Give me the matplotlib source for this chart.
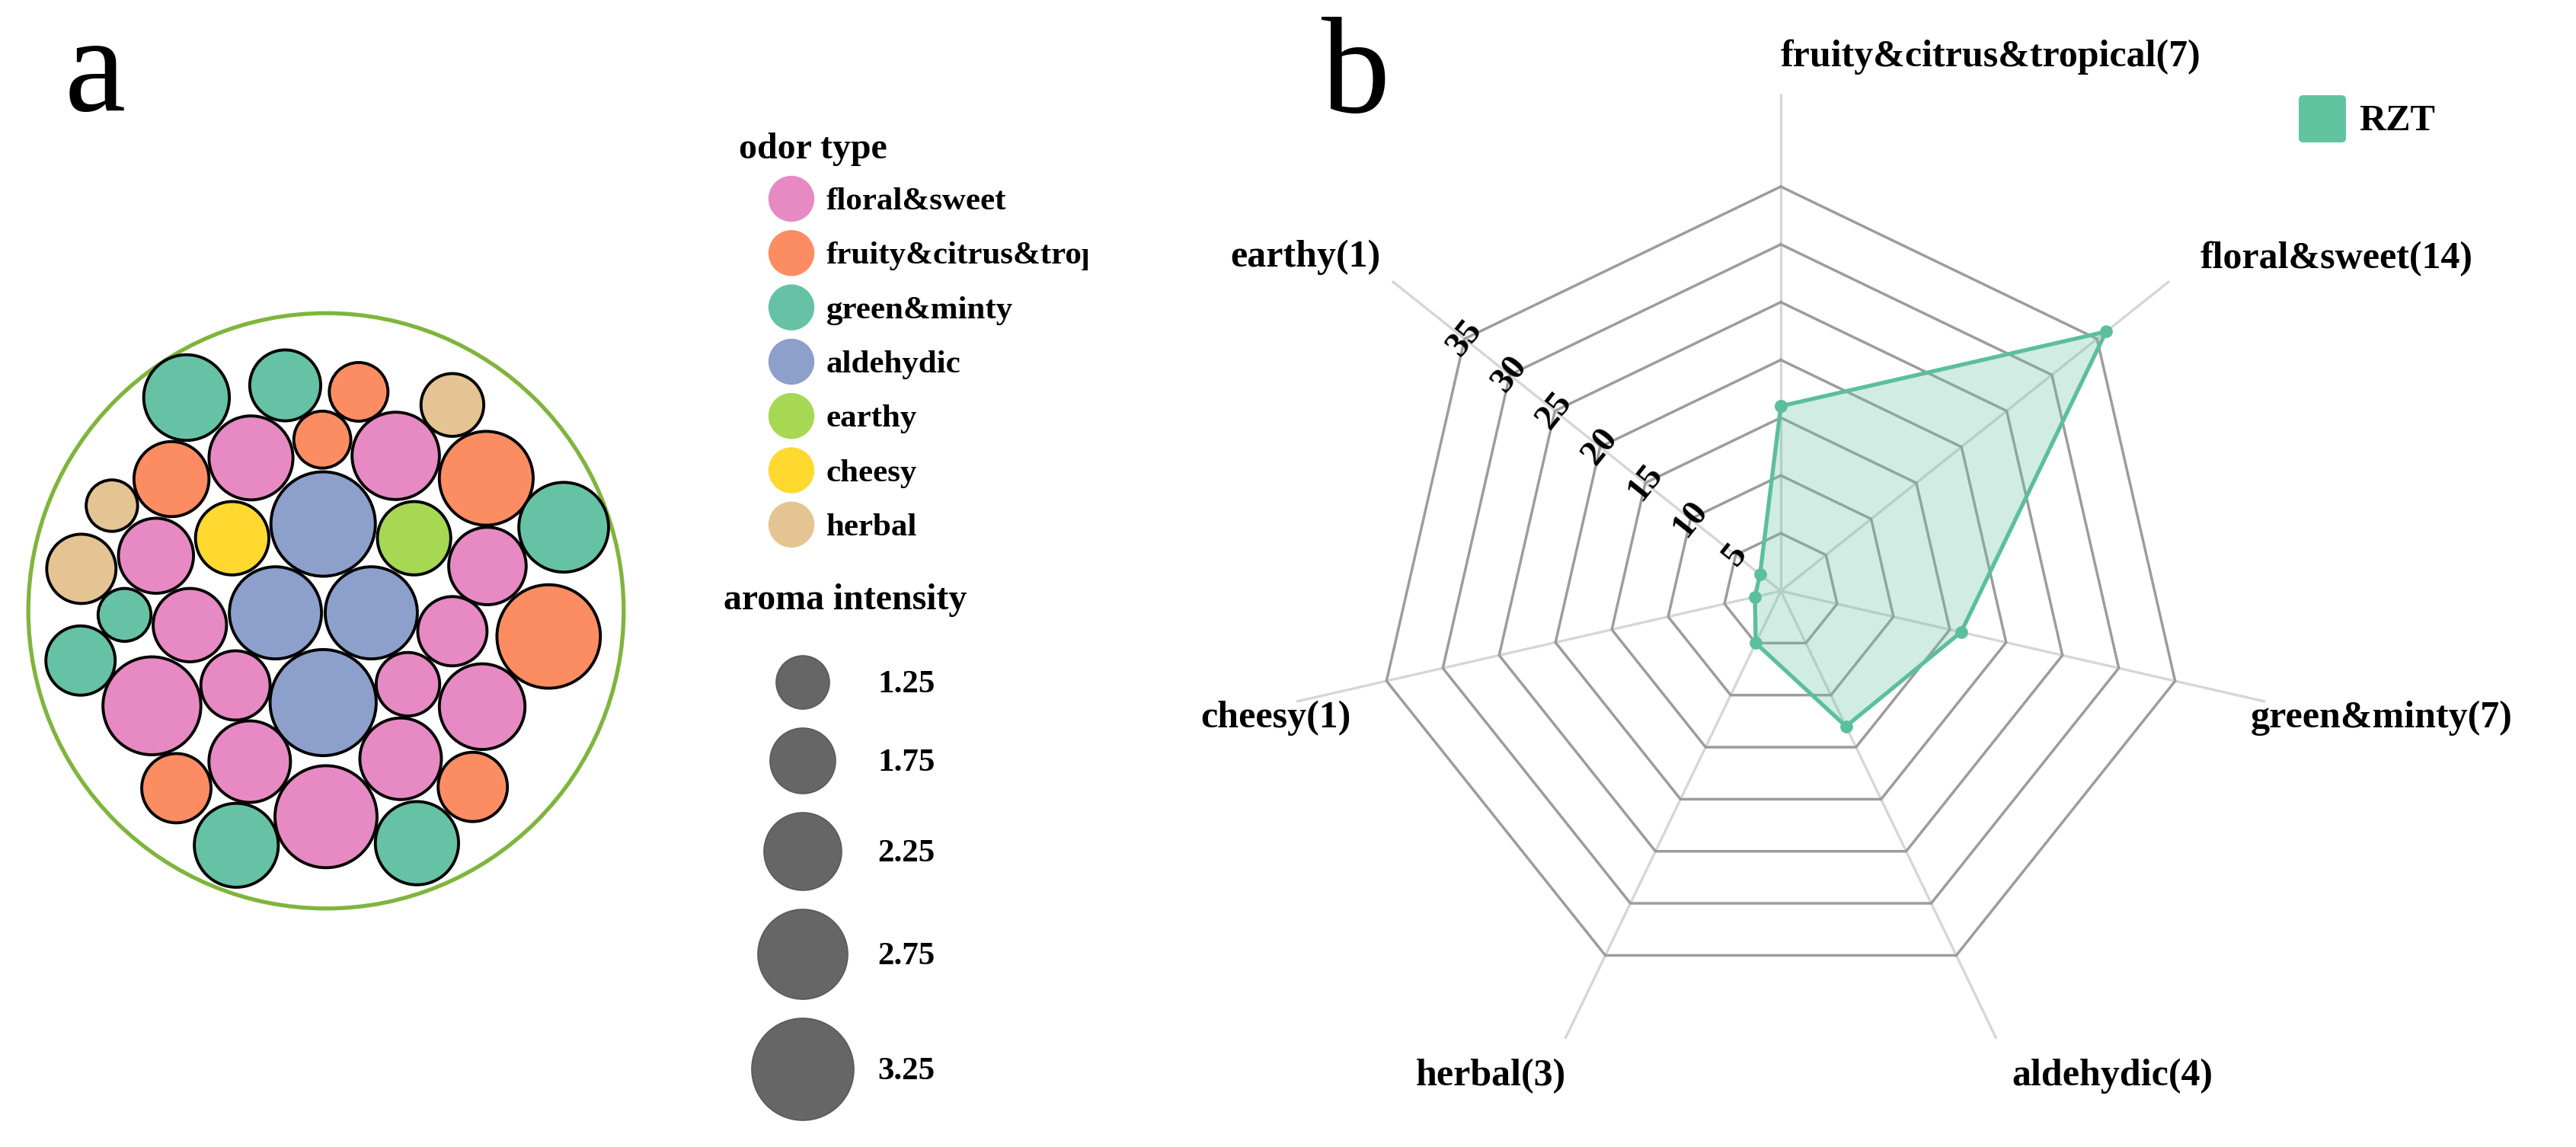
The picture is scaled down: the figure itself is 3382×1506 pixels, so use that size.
import numpy as np
import matplotlib
matplotlib.use("Agg")
import matplotlib.pyplot as plt
from matplotlib.patches import Circle, FancyBboxPatch
from matplotlib.transforms import Bbox

plt.rcParams['font.family'] = ['Liberation Serif', 'DejaVu Serif']

# ---------------- panel a : odour compounds (packed bubbles) ----------------
odor_types = ['floral&sweet', 'fruity&citrus&tropical', 'green&minty', 'aldehydic',
              'earthy', 'cheesy', 'herbal']
odor_keys = ['floral', 'fruity', 'green', 'aldehydic', 'earthy', 'cheesy', 'herbal']
odor_colors = ['#e78ac3', '#fc8d62', '#66c2a5', '#8da0cb', '#a6d854', '#ffd92f', '#e5c494']

# one entry per compound: odour type, aroma intensity, packed layout position
bub_type = ['green', 'green', 'fruity', 'herbal', 'floral', 'fruity', 'floral', 'fruity',
            'fruity', 'herbal', 'cheesy', 'aldehydic', 'earthy', 'green', 'herbal', 'floral',
            'floral', 'aldehydic', 'aldehydic', 'green', 'floral', 'floral', 'fruity', 'green',
            'floral', 'floral', 'aldehydic', 'floral', 'floral', 'floral', 'floral', 'fruity',
            'fruity', 'green', 'floral', 'green']
bub_intensity = [2.62, 2.01, 1.50, 1.67, 2.55, 1.43, 2.69, 2.18,
                 2.96, 1.20, 2.11, 3.40, 2.11, 2.79, 1.94, 2.18,
                 2.28, 2.89, 2.89, 1.26, 2.11, 1.94, 3.36, 1.94,
                 3.13, 1.94, 3.47, 1.70, 2.62, 2.45, 2.45, 1.94,
                 1.94, 2.55, 3.30, 2.52]
bub_x = [-185.4, -54.2, 43.4, 168.0, -99.7, -4.9, 92.7, -205.4,
         213.0, -284.6, -124.7, -3.8, 117.1, 316.0, -325.2, -226.0,
         214.6, -67.2, 60.2, -267.8, -181.0, 168.0, 296.0, -326.3,
         -231.4, -120.3, -3.8, 108.9, 207.6, -101.4, 99.2, -198.9,
         195.1, -119.2, 0.0, 120.9]
bub_y = [283.5, 299.7, 291.1, 273.7, 203.3, 227.6, 206.0, 175.1,
         176.2, 139.8, 96.5, 115.4, 96.5, 111.1, 55.8, 73.2,
         59.6, -2.7, -2.7, -5.4, -19.0, -27.1, -34.1, -66.1,
         -126.3, -99.2, -122.0, -97.6, -127.4, -200.5, -196.7, -235.8,
         -234.1, -311.7, -273.7, -308.9]
pack_radius = 395.7
size_legend = [1.25, 1.75, 2.25, 2.75, 3.25]

# ---------------- panel b : radar ----------------
radar_names = ['fruity&citrus&tropical(7)', 'floral&sweet(14)', 'green&minty(7)',
               'aldehydic(4)', 'herbal(3)', 'cheesy(1)', 'earthy(1)']
rzt = [16, 36, 16, 13, 5, 2.3, 2.3]
rings = [5, 10, 15, 20, 25, 30, 35]


def bubble_r(v):
    # radius (px) from aroma intensity
    return 15 + 16 * v


W, H = 3382, 1506
fig = plt.figure(figsize=(W / 100, H / 100), dpi=100)

# overlay in pixel units for legends / panel letters
ov = fig.add_axes([0, 0, 1, 1])
ov.set_xlim(0, W)
ov.set_ylim(H, 0)
ov.axis('off')

ov.text(85, 145, 'a', fontsize=130, va='baseline', ha='left')
ov.text(1735, 147, 'b', fontsize=130, va='baseline', ha='left')

# odour type legend
ov.text(970, 208, 'odor type', fontsize=34.5, fontweight='bold', va='baseline')
for i, (name, col) in enumerate(zip(odor_types, odor_colors)):
    cy = 261 + 71.3 * i
    ov.add_patch(Circle((1039, cy), 29.5, facecolor=col, edgecolor=col, lw=1))
    t = ov.text(1085, cy + 14, name, fontsize=31, fontweight='bold', va='baseline')
    t.set_clip_box(Bbox.from_extents(0, 0, 1428, H))
    t.set_clip_on(True)

# aroma intensity legend
ov.text(950, 800, 'aroma intensity', fontsize=34.5, fontweight='bold', va='baseline')
cy = 896
for j, v in enumerate(size_legend):
    r = bubble_r(v)
    if j > 0:
        cy += bubble_r(size_legend[j - 1]) + r + 25
    ov.add_patch(Circle((1054, cy), r, facecolor='#666666', edgecolor='#5a5a5a', lw=1.2))
    ov.text(1152, cy + 13, '%.2f' % v, fontsize=31, fontweight='bold', va='baseline')

# RZT legend
ov.add_patch(FancyBboxPatch((3022, 129), 54, 54, boxstyle='round,pad=4,rounding_size=6',
                            facecolor='#62c3a1', edgecolor='none'))
ov.text(3097, 171, 'RZT', fontsize=35, fontweight='bold', va='baseline')

# packed bubbles
cx, cyp, half = 428, 802, 400
axp = fig.add_axes([(cx - half) / W, (H - cyp - half) / H, 2 * half / W, 2 * half / H])
axp.set_xlim(-405, 405)
axp.set_ylim(-405, 405)
axp.axis('off')
axp.add_patch(Circle((0, 0), pack_radius, facecolor='none', edgecolor='#7fb53c', lw=3.8))
for t, v, x, y in zip(bub_type, bub_intensity, bub_x, bub_y):
    col = odor_colors[odor_keys.index(t)]
    axp.add_patch(Circle((x, y), bubble_r(v), facecolor=col, edgecolor='black', lw=2.8))

# radar
rc_x, rc_y = 2338, 776
rmax = 43
rpx = rmax * 531 / 35
axr = fig.add_axes([(rc_x - rpx) / W, (H - rc_y - rpx) / H, 2 * rpx / W, 2 * rpx / H],
                   projection='polar')
axr.set_theta_zero_location('N')
axr.set_theta_direction(-1)
axr.set_ylim(0, rmax)
axr.grid(False)
axr.set_xticks([])
axr.set_yticks([])
axr.spines['polar'].set_visible(False)
axr.patch.set_alpha(0)

n = len(radar_names)
ang = np.arange(n) * 2 * np.pi / n
ang_c = np.append(ang, ang[0])
for a in ang:
    axr.plot([a, a], [0, rmax], color='#d6d6d6', lw=2.4, zorder=1)
for r in rings:
    axr.plot(ang_c, [r] * (n + 1), color='#9c9c9c', lw=2.5, zorder=2)

vals = np.append(rzt, rzt[0])
axr.fill(ang_c, vals, color='#66c2a5', alpha=0.3, lw=0, zorder=3)
axr.plot(ang_c, vals, color='#5bbf9c', lw=3.8, marker='o', ms=11, zorder=4)

# radial tick labels along the earthy axis, turned across the axis
tick_rot = (90 - np.degrees(ang[6]) - 90) % 360
for r in rings:
    axr.text(ang[6], r, str(r), fontsize=34, fontweight='bold', rotation=tick_rot,
             rotation_mode='anchor', ha='center', va='center', zorder=5)

# axis names
name_pos = [(0.0, 46.2, 'left'), (51.6, 46.3, 'left'), (105.1, 42.1, 'left'),
            (154.5, 46.5, 'left'), (203.9, 45.9, 'right'), (253.5, 38.8, 'right'),
            (309.8, 45.1, 'right')]
for name, (th, r, ha) in zip(radar_names, name_pos):
    axr.text(np.radians(th), r, name, fontsize=36, fontweight='bold', ha=ha,
             va='center', clip_on=False)

fig.savefig('out.png', dpi=100)
